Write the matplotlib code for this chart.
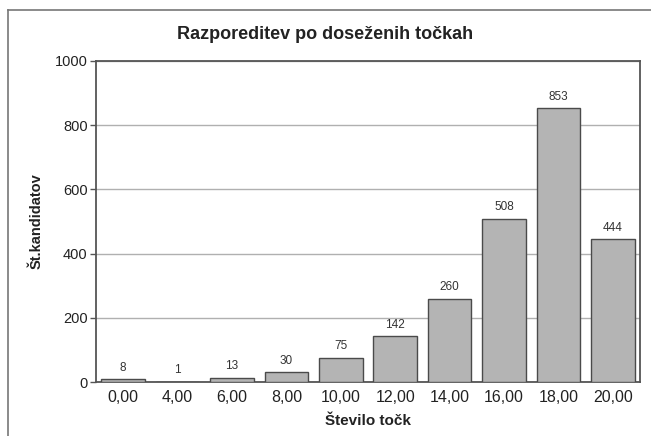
import matplotlib.pyplot as plt
from matplotlib.lines import Line2D

# data
categories = ['0,00', '4,00', '6,00', '8,00', '10,00', '12,00', '14,00', '16,00', '18,00', '20,00']
counts = [8, 1, 13, 30, 75, 142, 260, 508, 853, 444]
y_ticks = [0, 200, 400, 600, 800, 1000]

plt.rcParams['font.family'] = ['Liberation Sans', 'DejaVu Sans']

fig = plt.figure(figsize=(6.51, 4.36), dpi=100)
ax = fig.add_axes([96 / 651, 1 - 382 / 436, (640 - 96) / 651, (382 - 61) / 436])

x = range(len(categories))
bars = ax.bar(x, counts, width=0.8, color='#b4b4b4', edgecolor='#4a4a4a', linewidth=1.0, zorder=3)

# value labels above bars
for xi, v in zip(x, counts):
    ax.annotate(str(v), (xi, v), xytext=(0, 4), textcoords='offset points',
                ha='center', va='bottom', fontsize=8.5, color='#333333')

ax.set_xlim(-0.5, len(categories) - 0.5)
ax.set_ylim(0, 1000)
ax.set_yticks(y_ticks)
ax.set_xticks(list(x))
ax.set_xticklabels(categories)
ax.tick_params(axis='x', length=0, pad=6, labelsize=11.5, colors='#222222')
ax.tick_params(axis='y', length=4, width=1, color='#555555', pad=2, labelsize=10.5, colors='#222222')

ax.yaxis.grid(True, color='#b0b0b0', linewidth=1.0, zorder=0)
ax.set_axisbelow(True)
for s in ax.spines.values():
    s.set_color('#555555')
    s.set_linewidth(1.3)

# title centred on the figure rather than the axes
ax.set_title('Razporeditev po doseženih točkah', fontsize=13, fontweight='bold',
             color='#222222', pad=16, x=(325 - 96) / 544)
ax.set_xlabel('Število točk', fontsize=11, fontweight='bold', color='#222222', labelpad=6)
ax.set_ylabel('Št.kandidatov', fontsize=10.5, fontweight='bold', color='#222222', labelpad=8)

# outer frame lines (top and left only)
fig.add_artist(Line2D([8 / 651, 1], [1 - 10 / 436, 1 - 10 / 436], color='#777777', linewidth=1.2))
fig.add_artist(Line2D([8 / 651, 8 / 651], [0, 1 - 10 / 436], color='#777777', linewidth=1.2))

plt.savefig('out.png', dpi=100)
